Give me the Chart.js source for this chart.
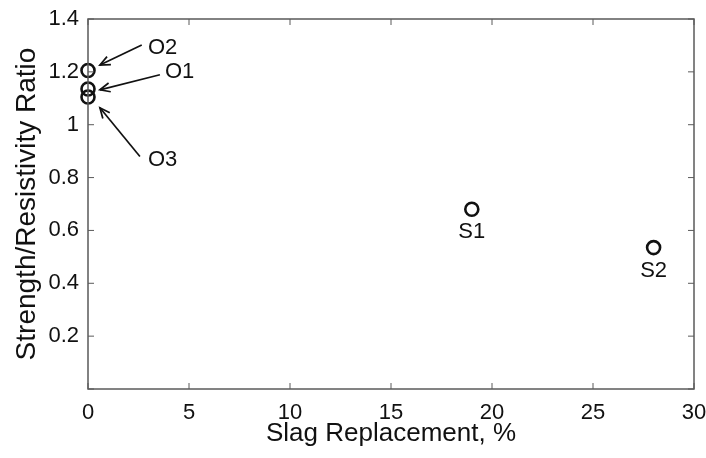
<!DOCTYPE html>
<html lang="en">
<head>
  <meta charset="UTF-8">
  <title>Strength/Resistivity Ratio vs Slag Replacement</title>
  <script src="https://cdn.jsdelivr.net/npm/chart.js"></script>
  <style>
    body { margin: 0; background: #fff; }
    .wrap { width: 706px; height: 458px; }
  </style>
</head>
<body>
  <div class="wrap"><canvas id="chart" width="706" height="458"></canvas></div>
  <script>
    // data
    const mixNames = ['O2', 'O1', 'O3', 'S1', 'S2'];
    const slagPct = [0, 0, 0, 19, 28];
    const ratio = [1.205, 1.135, 1.105, 0.68, 0.535];

    // arrow callouts for the overlapping O mixes (data units)
    const calloutText = ['O2', 'O1', 'O3'];
    const calloutLabelPos = [[2.97, 1.29], [3.81, 1.198], [2.97, 0.868]];
    const calloutTail = [[2.66, 1.302], [3.56, 1.189], [2.57, 0.88]];
    const calloutHead = [[0.59, 1.226], [0.59, 1.132], [0.59, 1.064]];

    const FONT = "'Liberation Sans', Arial, sans-serif";
    const AXIS_COLOR = '#5a5a5a';

    // draw box + inward ticks like matlab
    const frame = {
      id: 'frame',
      afterDraw(chart) {
        const { ctx, chartArea: a, scales } = chart;
        ctx.save();
        ctx.strokeStyle = AXIS_COLOR;
        ctx.lineWidth = 1.5;
        ctx.strokeRect(a.left, a.top, a.right - a.left, a.bottom - a.top);
        ctx.lineWidth = 1;
        const tl = 6;
        scales.x.ticks.forEach(t => {
          const px = scales.x.getPixelForValue(t.value);
          ctx.beginPath();
          ctx.moveTo(px, a.bottom); ctx.lineTo(px, a.bottom - tl);
          ctx.moveTo(px, a.top); ctx.lineTo(px, a.top + tl);
          ctx.stroke();
        });
        scales.y.ticks.forEach(t => {
          const py = scales.y.getPixelForValue(t.value);
          ctx.beginPath();
          ctx.moveTo(a.left, py); ctx.lineTo(a.left + tl, py);
          ctx.moveTo(a.right, py); ctx.lineTo(a.right - tl, py);
          ctx.stroke();
        });
        ctx.restore();
      }
    };

    const labels = {
      id: 'labels',
      afterDatasetsDraw(chart) {
        const { ctx, scales } = chart;
        const x = scales.x, y = scales.y;
        ctx.save();
        ctx.fillStyle = '#111';
        ctx.strokeStyle = '#111';
        ctx.font = '22px ' + FONT;
        // S labels under their points
        mixNames.forEach((n, i) => {
          if (n[0] !== 'S') return;
          ctx.textAlign = 'center';
          ctx.textBaseline = 'middle';
          ctx.fillText(n, x.getPixelForValue(slagPct[i]), y.getPixelForValue(ratio[i]) + 23);
        });
        // callouts with arrows
        calloutText.forEach((n, i) => {
          ctx.textAlign = 'left';
          ctx.textBaseline = 'middle';
          ctx.fillText(n, x.getPixelForValue(calloutLabelPos[i][0]), y.getPixelForValue(calloutLabelPos[i][1]));
          const x0 = x.getPixelForValue(calloutTail[i][0]), y0 = y.getPixelForValue(calloutTail[i][1]);
          const x1 = x.getPixelForValue(calloutHead[i][0]), y1 = y.getPixelForValue(calloutHead[i][1]);
          ctx.lineWidth = 1.7;
          ctx.beginPath();
          ctx.moveTo(x0, y0); ctx.lineTo(x1, y1);
          ctx.stroke();
          const ang = Math.atan2(y1 - y0, x1 - x0);
          const len = 11, wing = 0.42;
          ctx.beginPath();
          ctx.moveTo(x1 - len * Math.cos(ang - wing), y1 - len * Math.sin(ang - wing));
          ctx.lineTo(x1, y1);
          ctx.lineTo(x1 - len * Math.cos(ang + wing), y1 - len * Math.sin(ang + wing));
          ctx.stroke();
        });
        ctx.restore();
      }
    };

    new Chart(document.getElementById('chart'), {
      type: 'scatter',
      data: {
        datasets: [{
          label: 'Mixes',
          data: slagPct.map((s, i) => ({ x: s, y: ratio[i] })),
          pointStyle: 'circle',
          pointRadius: 6.5,
          pointHoverRadius: 6.5,
          pointBorderWidth: 2.6,
          pointBorderColor: '#111',
          pointBackgroundColor: 'rgba(0,0,0,0)',
          clip: false
        }]
      },
      options: {
        responsive: false,
        animation: false,
        events: [],
        layout: { padding: { top: 19, right: 12, left: 0, bottom: 0 } },
        plugins: {
          legend: { display: false },
          tooltip: { enabled: false }
        },
        scales: {
          x: {
            type: 'linear',
            min: 0, max: 30,
            ticks: { stepSize: 5, color: '#111', font: { family: FONT, size: 22 }, padding: 11, maxRotation: 0 },
            grid: { display: true, drawOnChartArea: false, drawTicks: false },
            border: { display: false },
            title: { display: true, text: 'Slag Replacement, %', color: '#111', font: { family: FONT, size: 26 }, padding: { top: 0, bottom: 9 } },
            afterFit(s) { s.height = 69; s.paddingLeft = 0; s.paddingRight = 0; }
          },
          y: {
            min: 0, max: 1.4,
            ticks: {
              stepSize: 0.2, color: '#111', font: { family: FONT, size: 22 }, padding: 9,
              callback: v => (Math.abs(v) < 1e-9 ? '' : Math.round(v * 10) / 10)
            },
            grid: { display: true, drawOnChartArea: false, drawTicks: false },
            border: { display: false },
            title: { display: true, text: 'Strength/Resistivity Ratio', color: '#111', font: { family: FONT, size: 28 }, padding: { top: 10, bottom: 0 } },
            afterFit(s) { s.width = 88; s.paddingTop = 0; s.paddingBottom = 0; }
          }
        }
      },
      plugins: [frame, labels]
    });
  </script>
</body>
</html>
